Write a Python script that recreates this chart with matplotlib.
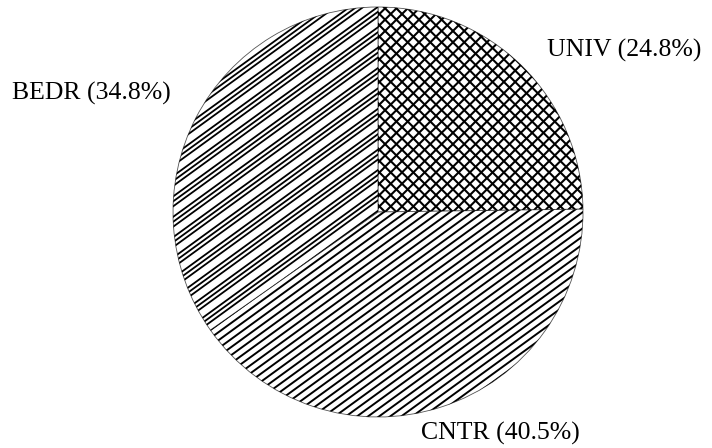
import numpy as np
import matplotlib.pyplot as plt
from matplotlib.collections import LineCollection

# sector data
labels = ['UNIV', 'CNTR', 'BEDR']
shares = [24.8, 40.5, 34.8]

# label anchor points (pixel coords, y up)
label_pos = [(547, 398), (421, 15), (12, 355)]

fig = plt.figure(figsize=(7.12, 4.48), dpi=100)
ax = fig.add_axes([0, 0, 1, 1])

cx, cy, r = 378, 236, 205
wedges, _ = ax.pie(shares, startangle=90, counterclock=False,
                   center=(cx, cy), radius=r,
                   wedgeprops=dict(facecolor='white', edgecolor='#555555', linewidth=0.6))


def hatch_lines(angle, offsets):
    u = np.array([np.cos(np.radians(angle)), np.sin(np.radians(angle))])
    n = np.array([-u[1], u[0]])
    c = np.array([cx, cy])
    segs = []
    for o in offsets:
        p = c + o * n
        segs.append([p - u * (r + 10), p + u * (r + 10)])
    return segs


# UNIV: cross hatch
cross = hatch_lines(45, np.arange(-r, r, 8.0)) + hatch_lines(135, np.arange(-r, r, 8.0))
# CNTR: dense single hatch
dense = hatch_lines(36, np.arange(-r, r, 6.5))
# BEDR: hatch in groups of three
base = np.arange(-r, r, 16.5)
triple = hatch_lines(36, np.concatenate([base, base + 4.0, base + 8.0]))

for wedge, segs, lw in zip(wedges, [cross, dense, triple], [1.5, 1.4, 1.3]):
    lc = LineCollection(segs, colors='black', linewidths=lw)
    ax.add_collection(lc)
    lc.set_clip_path(wedge)

for name, val, (x, y) in zip(labels, shares, label_pos):
    ax.text(x, y, f"{name} ({val:.1f}%)", ha='left', va='center',
            fontsize=18.5, family='Liberation Serif')

ax.set_xlim(0, 712)
ax.set_ylim(0, 448)
ax.set_aspect('equal')
ax.axis('off')

plt.savefig("out.png", dpi=100)
